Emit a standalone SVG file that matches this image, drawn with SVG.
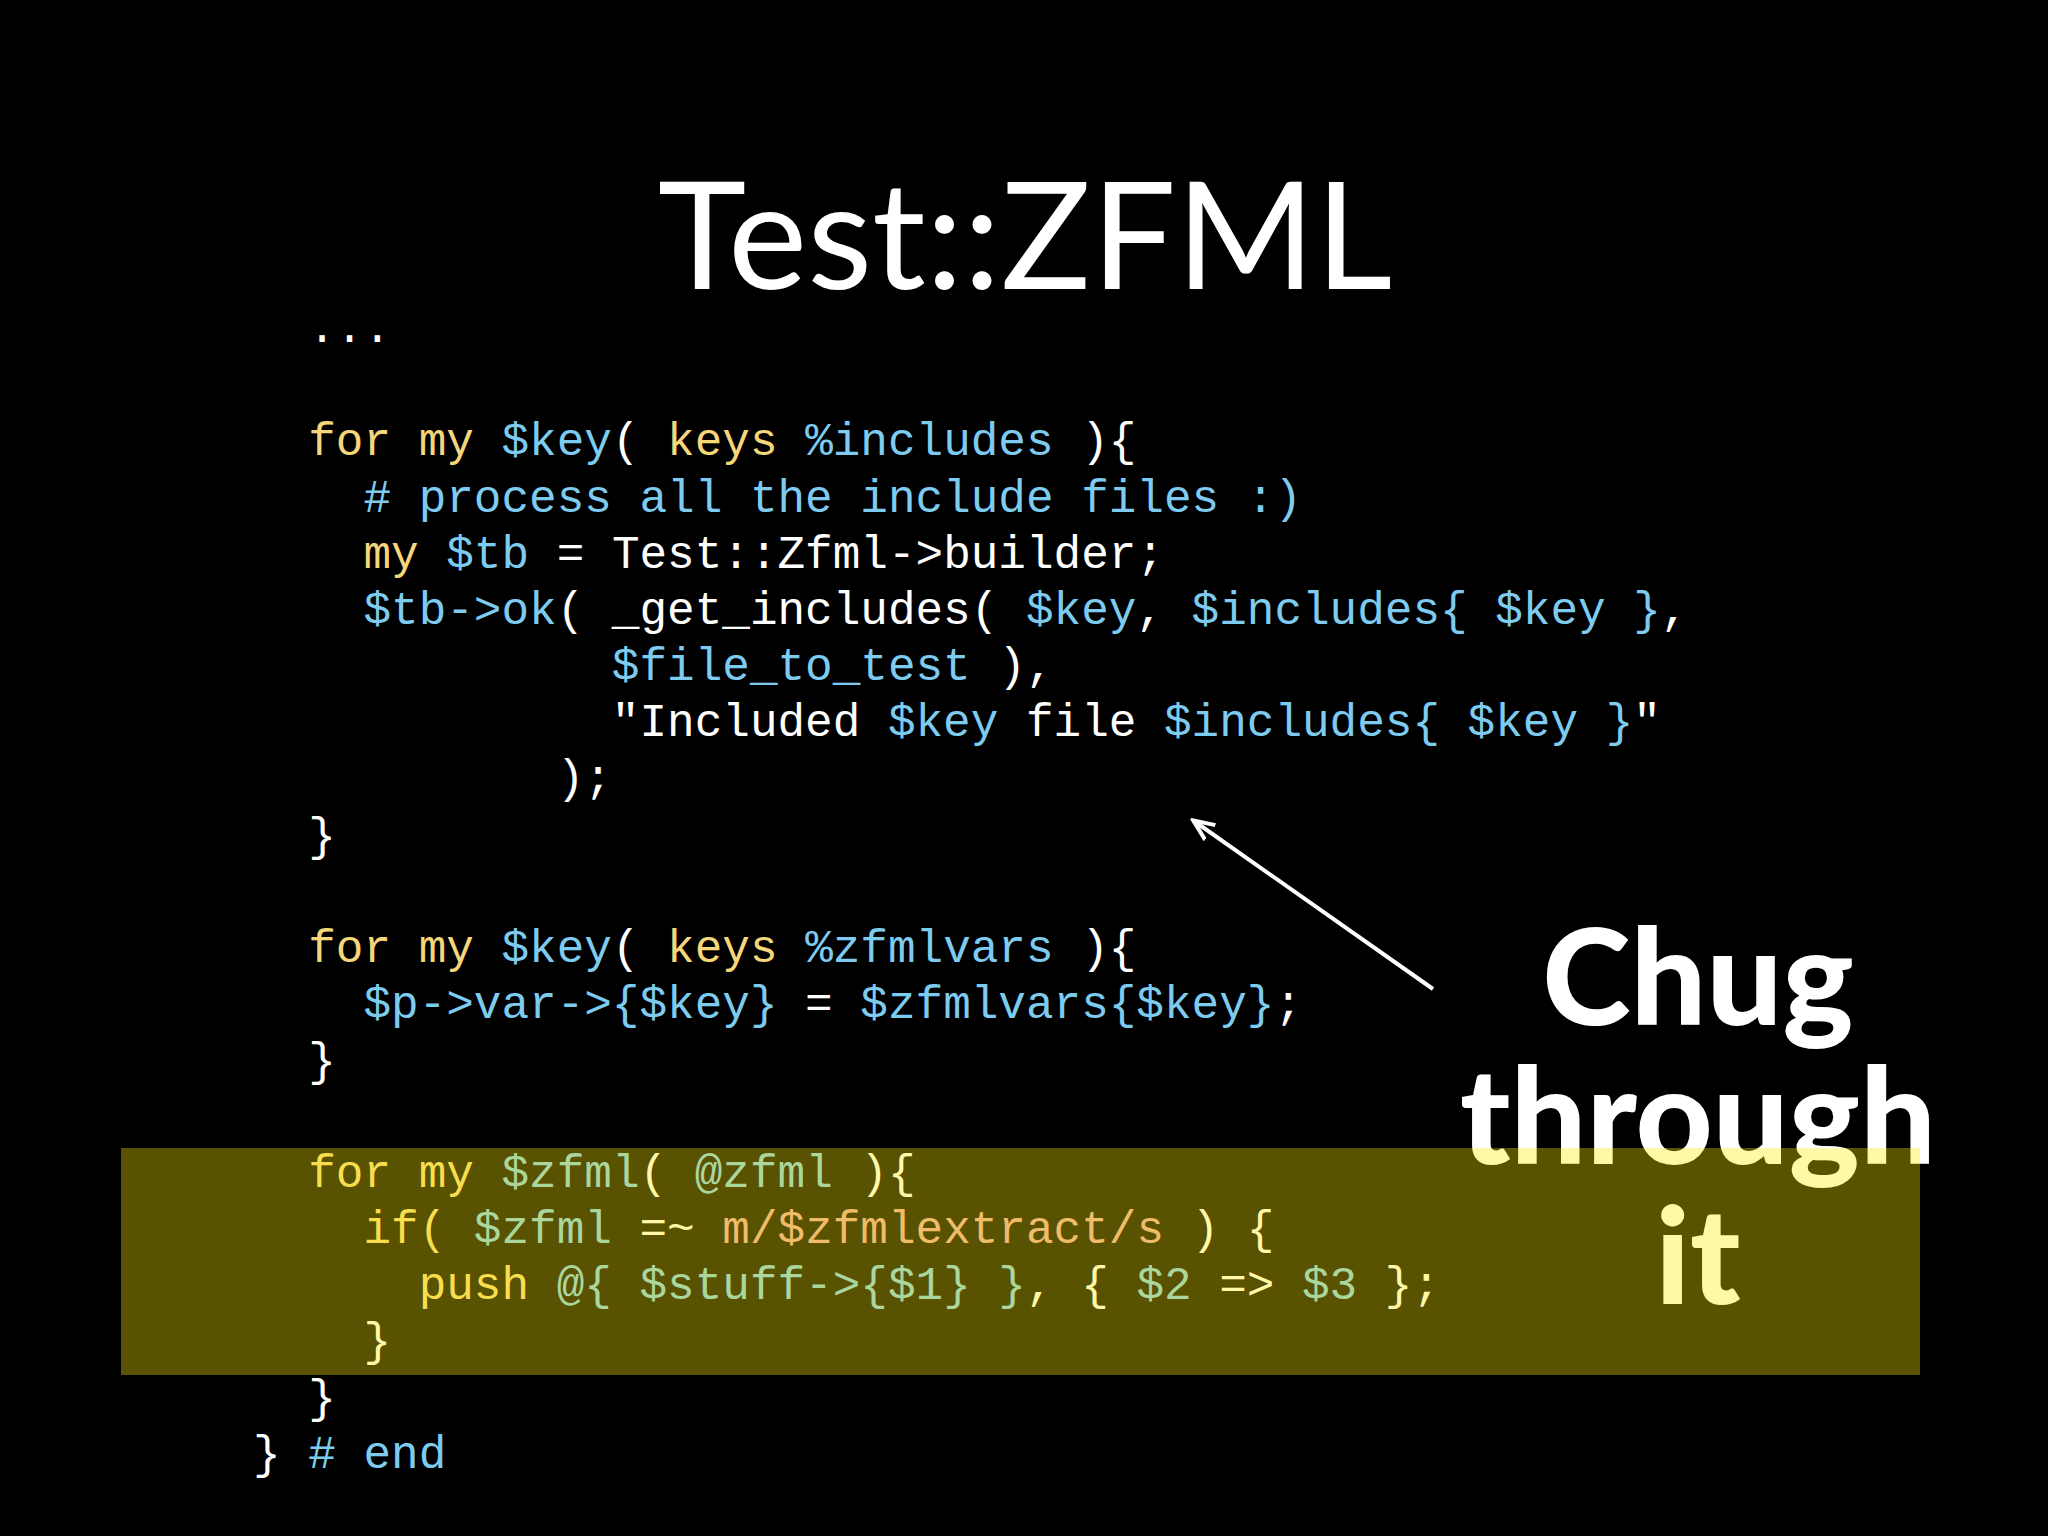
<svg xmlns="http://www.w3.org/2000/svg" width="2048" height="1536" viewBox="0 0 2048 1536">
<style>
.code{font-family:"Liberation Mono","DejaVu Sans Mono",monospace;font-size:46px;fill:#ffffff;white-space:pre}
.y{fill:#f5d77a}.c{fill:#7ecbf0}.p{fill:#e8a3a3}
.big{font-family:Lato,"Open Sans",sans-serif;fill:#ffffff;text-anchor:middle}
</style>
<defs>
<marker id="ah" markerWidth="24" markerHeight="24" refX="20" refY="12" orient="auto" markerUnits="userSpaceOnUse" viewBox="0 0 24 24">
<path d="M0,3 L21,12 L0,21" fill="none" stroke="#fff" stroke-width="4"/>
</marker>
</defs>
<rect width="2048" height="1536" fill="#000"/>
<g id="title"><text class="big" x="1025" y="289" font-size="150">Test::ZFML</text></g>
<g id="code" xml:space="preserve">
<text class="code" x="253" y="342">  ...</text>
<text class="code" x="253" y="455">  <tspan class="y">for my</tspan> <tspan class="c">$key</tspan>( <tspan class="y">keys</tspan> <tspan class="c">%includes</tspan> ){</text>
<text class="code c" x="253" y="512">    # process all the include files :)</text>
<text class="code" x="253" y="568">    <tspan class="y">my</tspan> <tspan class="c">$tb</tspan> = Test::Zfml-&gt;builder;</text>
<text class="code" x="253" y="624">    <tspan class="c">$tb-&gt;ok</tspan>( _get_includes( <tspan class="c">$key</tspan>, <tspan class="c">$includes{ $key }</tspan>,</text>
<text class="code" x="253" y="680">             <tspan class="c">$file_to_test</tspan> ),</text>
<text class="code" x="253" y="736">             "Included <tspan class="c">$key</tspan> file <tspan class="c">$includes{ $key }</tspan>"</text>
<text class="code" x="253" y="792">           );</text>
<text class="code" x="253" y="850">  }</text>
<text class="code" x="253" y="962">  <tspan class="y">for my</tspan> <tspan class="c">$key</tspan>( <tspan class="y">keys</tspan> <tspan class="c">%zfmlvars</tspan> ){</text>
<text class="code" x="253" y="1018">    <tspan class="c">$p-&gt;var-&gt;{$key}</tspan> = <tspan class="c">$zfmlvars{$key}</tspan>;</text>
<text class="code" x="253" y="1075">  }</text>
<text class="code" x="253" y="1187">  <tspan class="y">for my</tspan> <tspan class="c">$zfml</tspan>( <tspan class="c">@zfml</tspan> ){</text>
<text class="code" x="253" y="1243">    <tspan class="y">if(</tspan> <tspan class="c">$zfml</tspan> =~ <tspan class="p">m/$zfmlextract/s</tspan> ) {</text>
<text class="code" x="253" y="1299">      <tspan class="y">push</tspan> <tspan class="c">@{ $stuff-&gt;{$1} }</tspan>, { <tspan class="c">$2</tspan> =&gt; <tspan class="c">$3</tspan> };</text>
<text class="code" x="253" y="1355">    }</text>
<text class="code" x="253" y="1412">  }</text>
<text class="code" x="253" y="1468">} <tspan class="c"># end</tspan></text>
</g>
<g id="callout">
<text class="big" x="1698" y="1025" font-size="134" font-weight="900">Chug</text>
<text class="big" x="1698" y="1164" font-size="134" font-weight="900">through</text>
<text class="big" x="1698" y="1304" font-size="134" font-weight="900">it</text>
</g>
<g id="connectors">
<line x1="1433" y1="989" x2="1194" y2="821" stroke="#fff" stroke-width="4" marker-end="url(#ah)"/>
</g>
<g id="highlight"><rect x="121" y="1148" width="1799" height="227" fill="#ffea00" fill-opacity="0.35"/></g>
</svg>
